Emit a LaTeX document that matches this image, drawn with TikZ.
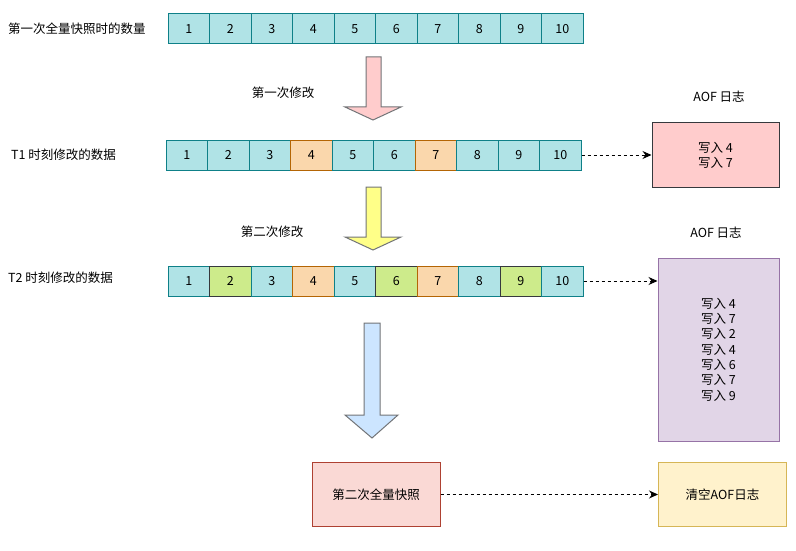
\documentclass[tikz,border=0pt]{standalone}
\usepackage{fontspec}
\setmainfont{Noto Sans CJK SC}
\usetikzlibrary{arrows.meta}

\definecolor{tealfill}{HTML}{B0E3E6}
\definecolor{tealline}{HTML}{0E8088}
\definecolor{orgfill}{HTML}{FAD7AC}
\definecolor{orgline}{HTML}{B46504}
\definecolor{grnfill}{HTML}{CDEB8B}
\definecolor{darkline}{HTML}{36393D}
\definecolor{pinkfill}{HTML}{FFCCCC}
\definecolor{yelfill}{HTML}{FFFF88}
\definecolor{bluefill}{HTML}{CCE5FF}
\definecolor{purfill}{HTML}{E1D5E7}
\definecolor{purline}{HTML}{9673A6}
\definecolor{redfill}{HTML}{FAD9D5}
\definecolor{redline}{HTML}{AE4132}
\definecolor{ylwfill}{HTML}{FFF2CC}
\definecolor{ylwline}{HTML}{D6B656}

\tikzset{
  cell/.style={draw, line width=1pt, minimum width=41.5pt, minimum height=30pt, inner sep=0pt},
  tcell/.style={cell, fill=tealfill, draw=tealline},
  ocell/.style={cell, fill=orgfill, draw=orgline},
  gcell/.style={cell, fill=grnfill, draw=darkline},
  box/.style={draw, line width=1pt, inner sep=0pt, align=center},
  note/.style={inner sep=0pt},
  link/.style={line width=1pt, dash pattern=on 3pt off 3pt, -{Stealth[length=9pt,width=8pt]}},
  bigarrow/.style={draw=darkline!70, line width=1pt},
}

\begin{document}
\begin{tikzpicture}[x=1pt, y=-1pt, font=\fontsize{12.5}{15.3}\selectfont]
  \useasboundingbox (0,0) rectangle (796,551);

  % first full snapshot
  \node[note, anchor=west] (lbl0) at (8,29) {第一次全量快照时的数量};
  \foreach \i in {1,...,10}
    \node[tcell] (a\i) at ({168+(\i-0.5)*41.5},29) {\i};

  % first change
  \draw[bigarrow, fill=pinkfill] (366,57) -- (381,57) -- (381,107) -- (401,107)
    -- (373,120) -- (345,107) -- (366,107) -- cycle;
  \node[note] (chg1) at (283,93) {第一次修改};

  % data at T1
  \node[note, anchor=west] (lbl1) at (11,155) {T1 时刻修改的数据};
  \foreach \i/\s in {1/tcell,2/tcell,3/tcell,4/ocell,5/tcell,6/tcell,7/ocell,8/tcell,9/tcell,10/tcell}
    \node[\s] (b\i) at ({166+(\i-0.5)*41.5},155) {\i};

  \node[note] (aoft1) at (719,97) {AOF 日志};
  \node[box, fill=pinkfill, draw=darkline, minimum width=127pt, minimum height=64pt] (aof1) at (715.5,155) {写入 4\\写入 7};
  \draw[link] (b10) -- (aof1);

  % second change
  \draw[bigarrow, fill=yelfill] (366,187) -- (381,187) -- (381,237) -- (401,237)
    -- (373,250) -- (345,237) -- (366,237) -- cycle;
  \node[note] (chg2) at (272,232) {第二次修改};

  % data at T2
  \node[note, anchor=west] (lbl2) at (8,278) {T2 时刻修改的数据};
  \foreach \i/\s in {1/tcell,2/gcell,3/tcell,4/ocell,5/tcell,6/gcell,7/ocell,8/tcell,9/gcell,10/tcell}
    \node[\s] (c\i) at ({168+(\i-0.5)*41.5},281) {\i};

  \node[note] (aoft2) at (716,233) {AOF 日志};
  \node[box, fill=purfill, draw=purline, minimum width=121pt, minimum height=183pt] (aof2) at (718.5,349.5)
    {写入 4\\写入 7\\写入 2\\写入 4\\写入 6\\写入 7\\写入 9};
  \draw[link] (c10) -- (aof2.west |- c10);

  % second full snapshot
  \draw[bigarrow, fill=bluefill] (364,323) -- (380,323) -- (380,415) -- (398,415)
    -- (372,438) -- (345,415) -- (364,415) -- cycle;
  \node[box, fill=redfill, draw=redline, minimum width=128pt, minimum height=64pt] (snap) at (376,494.5) {第二次全量快照};
  \node[box, fill=ylwfill, draw=ylwline, minimum width=128pt, minimum height=64pt] (clear) at (722.5,494.5) {清空AOF日志};
  \draw[link] (snap) -- (clear);
\end{tikzpicture}
\end{document}
